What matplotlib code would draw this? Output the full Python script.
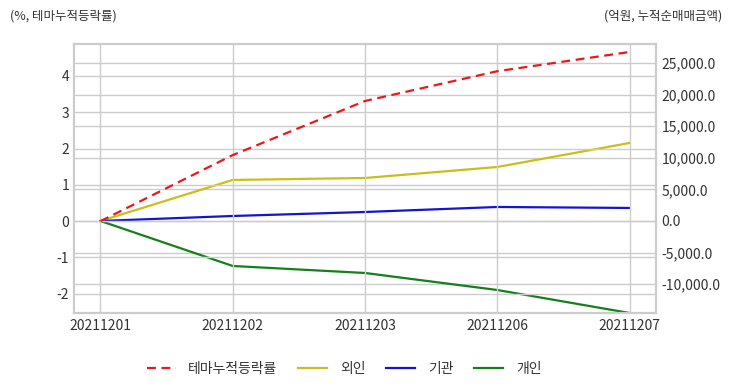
import numpy as np
import matplotlib.pyplot as plt
from matplotlib.ticker import FuncFormatter

plt.rcParams['font.family'] = ['Noto Sans CJK KR', 'DejaVu Sans']
plt.rcParams['axes.unicode_minus'] = False

dates = ["20211201", "20211202", "20211203", "20211206", "20211207"]
theme_rate = [0.0, 1.82, 3.31, 4.13, 4.66]      # %, 테마누적등락률
foreign = [0.0, 6490.0, 6800.0, 8540.0, 12340.0]  # 억원
institution = [0.0, 790.0, 1420.0, 2215.0, 2060.0]
individual = [0.0, -7120.0, -8230.0, -10920.0, -14560.0]

grid_c = "#cccccc"
text_c = "#333333"

fig = plt.figure(figsize=(7.32, 3.92), dpi=100)
ax = fig.add_axes([74 / 732, 1 - 313 / 392, (656 - 74) / 732, (313 - 44) / 392])
ax2 = ax.twinx()

x = np.arange(len(dates))

l1, = ax.plot(x, theme_rate, color="#e8191b", lw=1.6, ls=(0, (4, 2.5)), label="테마누적등락률")
l2, = ax2.plot(x, foreign, color="#c8bf1a", lw=1.6, label="외인")
l3, = ax2.plot(x, institution, color="#1414d2", lw=1.6, label="기관")
l4, = ax2.plot(x, individual, color="#15801a", lw=1.6, label="개인")

ax.set_xlim(-0.2, 4.2)
ax.set_ylim(-2.53, 4.88)
ax2.set_ylim(-14560, 28000)

ax.set_xticks(x)
ax.set_xticklabels(dates)
ax.set_yticks(range(-2, 5))
ax2.set_yticks(range(-10000, 25001, 5000))
ax2.yaxis.set_major_formatter(FuncFormatter(lambda v, p: f"{v:,.1f}"))

# 두 축의 격자를 모두 그림 (오른쪽 축이 뒤에 깔리도록)
ax.grid(True, color=grid_c, lw=1)
ax2.grid(True, axis="y", color=grid_c, lw=1)
ax.set_zorder(1)
ax2.set_zorder(0)
ax.patch.set_visible(False)
ax2.patch.set_facecolor("white")

for a in (ax, ax2):
    for s in a.spines.values():
        s.set_color(grid_c)
        s.set_linewidth(1.5)
    a.tick_params(length=0, labelsize=10, colors=text_c)
ax.tick_params(axis="x", pad=4)
ax2.tick_params(axis="y", pad=4)

fig.text(10 / 732, 1 - 16 / 392, "(%, 테마누적등락률)", fontsize=9, color=text_c, va="center", ha="left")
fig.text(722 / 732, 1 - 16 / 392, "(억원, 누적순매매금액)", fontsize=9, color=text_c, va="center", ha="right")

fig.legend(handles=[l1, l2, l3, l4], loc="center", bbox_to_anchor=(344 / 732, 1 - 369 / 392),
           ncol=4, frameon=False, fontsize=10, handlelength=2.1, handletextpad=0.9,
           columnspacing=1.5, labelcolor=text_c)

fig.savefig("out.png", dpi=100)
